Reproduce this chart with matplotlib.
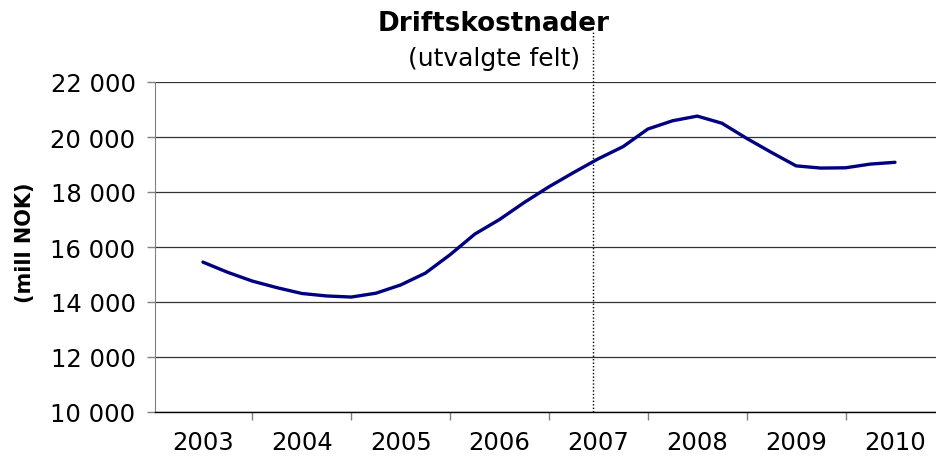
import matplotlib
matplotlib.use("Agg")
import matplotlib.pyplot as plt
from matplotlib.ticker import FixedLocator, FuncFormatter, NullFormatter

# ---- data ----
years = [2003, 2004, 2005, 2006, 2007, 2008, 2009, 2010]
quarters = [2003.0, 2003.25, 2003.5, 2003.75,
            2004.0, 2004.25, 2004.5, 2004.75,
            2005.0, 2005.25, 2005.5, 2005.75,
            2006.0, 2006.25, 2006.5, 2006.75,
            2007.0, 2007.25, 2007.5, 2007.75,
            2008.0, 2008.25, 2008.5, 2008.75,
            2009.0, 2009.25, 2009.5, 2009.75,
            2010.0]
costs = [15450, 15080, 14760, 14520,
         14310, 14220, 14180, 14320,
         14620, 15050, 15720, 16470,
         17000, 17620, 18190, 18710,
         19210, 19650, 20290, 20590,
         20760, 20500, 19950, 19440,
         18950, 18870, 18880, 19015,
         19080]
y_ticks = [10000, 12000, 14000, 16000, 18000, 20000, 22000]
forecast_split = 2006.95
title = "Driftskostnader"
subtitle = "(utvalgte felt)"
ylabel = "(mill NOK)"

plt.rcParams['font.family'] = ['DejaVu Sans']

W, H = 937, 464
fig = plt.figure(figsize=(W / 100, H / 100), dpi=100)
ax = fig.add_axes([155 / W, 51 / H, (W - 155) / W, 330 / H])

ax.plot(quarters, costs, color='#000080', lw=2.4, solid_joinstyle='round',
        solid_capstyle='round', zorder=3)

ax.set_ylim(y_ticks[0], y_ticks[-1])
ax.set_xlim(years[0] - 0.485, years[-1] + 0.425)

ax.yaxis.set_major_locator(FixedLocator(y_ticks))
ax.yaxis.set_major_formatter(FuncFormatter(lambda v, p: f"{int(v):,}".replace(",", " ")))
ax.grid(axis='y', color='#333333', lw=0.9, zorder=1)

# x: tick marks between years, labels at year centres
ax.xaxis.set_major_locator(FixedLocator([y - 0.5 for y in years] + [years[-1] + 0.5]))
ax.xaxis.set_major_formatter(NullFormatter())
ax.xaxis.set_minor_locator(FixedLocator(years))
ax.xaxis.set_minor_formatter(FuncFormatter(lambda v, p: f"{int(round(v))}"))
ax.tick_params(axis='x', which='major', length=6, width=1, color='#808080', direction='out')
ax.tick_params(axis='x', which='minor', length=0, pad=13, labelsize=17.5)
ax.tick_params(axis='y', which='major', length=6, width=1, color='#808080', pad=8, labelsize=17.5)

for s in ('top', 'right'):
    ax.spines[s].set_visible(False)
ax.spines['left'].set_color('#808080')
ax.spines['bottom'].set_color('black')
ax.spines['bottom'].set_linewidth(1.0)

# dotted divider, extending above the plot area
ax.plot([forecast_split, forecast_split], [y_ticks[0], 23850], color='black',
        ls=(0, (1, 1.5)), lw=1, clip_on=False, zorder=2)

fig.text(494 / W, (H - 31) / H, title, ha='center', va='baseline',
         fontsize=18.8, fontweight='bold')
fig.text(494 / W, (H - 66) / H, subtitle, ha='center', va='baseline', fontsize=18)
fig.text(25 / W, (H - 243) / H, ylabel, ha='center', va='center', rotation=90,
         fontsize=15, fontweight='bold')

fig.savefig("out.png", dpi=100)
